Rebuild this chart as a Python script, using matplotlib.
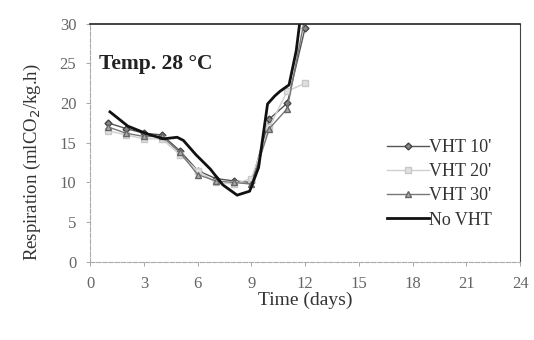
import matplotlib.pyplot as plt
import numpy as np

# days of measurement and respiration rates (mlCO2/kg.h)
days = [1, 2, 3, 4, 5, 6, 7, 8, 9, 10, 11, 12]
vht10 = [17.5, 16.8, 16.2, 16.0, 14.0, 11.5, 10.5, 10.2, 10.0, 18.0, 20.0, 29.5]
vht20 = [16.5, 16.0, 15.5, 15.5, 13.5, 11.5, 10.0, 9.8, 10.5, 17.0, 21.5, 22.5]
vht30 = [17.0, 16.2, 15.8, 15.8, 13.8, 11.0, 10.2, 10.0, 9.8, 16.8, 19.3, 31.0]

# control curve
days_ctrl = [1.1, 2.1, 3.2, 4.1, 4.85, 5.2, 5.9, 6.7, 7.4, 8.2, 8.9, 9.4,
             9.9, 10.3, 10.6, 11.1, 11.5, 11.8]
no_vht = [18.9, 17.1, 16.1, 15.5, 15.7, 15.3, 13.5, 11.7, 9.7, 8.4, 8.9, 11.9,
          19.9, 20.9, 21.5, 22.3, 26.6, 32.0]

xticks = list(range(0, 25, 3))
yticks = list(range(0, 31, 5))

plt.rcParams['font.family'] = ['Liberation Serif', 'DejaVu Serif']

my_dpi = 100
fig = plt.figure(figsize=(534 / my_dpi, 340 / my_dpi), dpi=my_dpi)
ax = fig.add_axes([0.169, 0.23, 0.805, 0.70])

ax.plot(days, vht10, color='#555555', lw=1.0, marker='D', ms=3.5,
        mfc='#888888', mec='#444444', label="VHT 10'")
ax.plot(days, vht20, color='#cfcfcf', lw=1.0, marker='s', ms=4,
        mfc='#e0e0e0', mec='#c8c8c8', label="VHT 20'")
ax.plot(days, vht30, color='#777777', lw=1.0, marker='^', ms=5,
        mfc='#aaaaaa', mec='#666666', label="VHT 30'")
ax.plot(days_ctrl, no_vht, color='#111111', lw=2.0, label='No VHT')

ax.set_xlim(0, 24)
ax.set_ylim(0, 30)
ax.set_xticks(xticks)
ax.set_yticks(yticks)
ax.tick_params(labelsize=12, labelcolor='#666666', color='#999999',
               length=3, width=0.6)
ax.tick_params(axis='x', pad=7)
ax.tick_params(axis='y', pad=7)

for side in ['left', 'bottom']:
    ax.spines[side].set_color('#aaaaaa')
    ax.spines[side].set_linestyle((0, (4, 1.5)))
    ax.spines[side].set_linewidth(0.8)
ax.spines['top'].set_color('#222222')
ax.spines['top'].set_linewidth(1.2)
ax.spines['right'].set_color('#444444')
ax.spines['right'].set_linewidth(0.8)

ax.set_xlabel('Time (days)', fontsize=14, color='#333333', labelpad=0)
ax.set_ylabel('Respiration (mlCO$_2$/kg.h)', fontsize=13.5, color='#333333')
ax.yaxis.set_label_coords(-0.11, 0.42)

ax.text(0.02, 0.83, 'Temp. 28 °C', transform=ax.transAxes, fontsize=15.5,
        fontweight='bold', color='#222222', va='center', ha='left')

leg = ax.legend(loc='upper left', bbox_to_anchor=(378 / 534, 1 - 130 / 340),
                bbox_transform=fig.transFigure, frameon=False, fontsize=13,
                handlelength=2.3, handletextpad=0.0, labelspacing=0.4,
                borderpad=0)
for t in leg.get_texts():
    t.set_color('#333333')

fig.savefig('out.png', dpi=my_dpi)
